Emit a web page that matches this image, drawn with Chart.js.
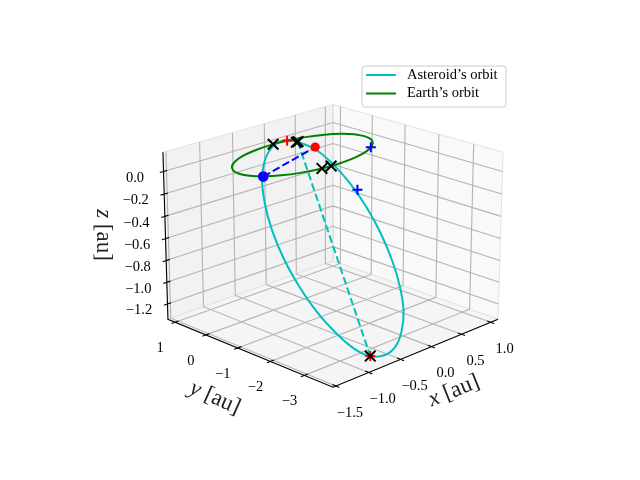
<!DOCTYPE html>
<html>
<head>
<meta charset="utf-8">
<title>Orbits</title>
<script src="https://cdn.jsdelivr.net/npm/chart.js@4"></script>
<style>
body { margin: 0; background: #fff; }
canvas { display: block; }
</style>
</head>
<body>
<canvas id="orbits" width="640" height="480"></canvas>
<script>
// Axis ticks and limits, in au
const xTicks = [-1.5, -1.0, -0.5, 0.0, 0.5, 1.0];
const yTicks = [-3, -2, -1, 0, 1];
const zTicks = [-1.2, -1.0, -0.8, -0.6, -0.4, -0.2, 0.0];
const xTickLabels = ['−1.5', '−1.0', '−0.5', '0.0', '0.5', '1.0'];
const yTickLabels = ['−3', '−2', '−1', '0', '1'];
const zTickLabels = ['−1.2', '−1.0', '−0.8', '−0.6', '−0.4', '−0.2', '0.0'];
const xLim = [-1.543, 1.129];
const yLim = [-3.82, 1.237];
const zLim = [-1.342, 0.17];

// Asteroid's orbit, in au
const asteroidX = [0.025, 0.266, 0.448, 0.580, 0.651, 0.657, 0.598, 0.478, 0.304, 0.07, -0.18, -0.44, -0.70, -0.91, -1.075, -1.21, -1.28, -1.29, -1.233, -1.112, -0.938, -0.714, -0.462, -0.200, 0.025];
const asteroidY = [0.228, 0.154, -0.036, -0.328, -0.703, -1.136, -1.596, -2.053, -2.475, -2.834, -3.104, -3.269, -3.315, -3.241, -3.052, -2.760, -2.373, -1.926, -1.461, -1.004, -0.582, -0.233, 0.027, 0.182, 0.228];
const asteroidZ = [0.091, -0.012, -0.158, -0.334, -0.530, -0.732, -0.927, -1.100, -1.240, -1.338, -1.387, -1.384, -1.328, -1.224, -1.079, -0.902, -0.706, -0.504, -0.310, -0.137, 0.004, 0.102, 0.150, 0.147, 0.091];

// Earth's orbit, in au
const earthX = [1, 0.966, 0.866, 0.707, 0.5, 0.259, 0, -0.259, -0.5, -0.707, -0.866, -0.966, -1, -0.966, -0.866, -0.707, -0.5, -0.259, 0, 0.259, 0.5, 0.707, 0.866, 0.966, 1];
const earthY = [0, 0.259, 0.5, 0.707, 0.866, 0.966, 1, 0.966, 0.866, 0.707, 0.5, 0.259, 0, -0.259, -0.5, -0.707, -0.866, -0.966, -1, -0.966, -0.866, -0.707, -0.5, -0.259, 0];
const earthZ = [0, 0, 0, 0, 0, 0, 0, 0, 0, 0, 0, 0, 0, 0, 0, 0, 0, 0, 0, 0, 0, 0, 0, 0, 0];

// Dashed lines
const apsisX = [0.025, -0.70];
const apsisY = [0.228, -3.315];
const apsisZ = [0.091, -1.328];
const nodeX = [-0.88, 0.29];
const nodeY = [-0.50, 0.20];
const nodeZ = [0, 0];

// Markers
const blackCrossX = [0.02, 0.0, 0.03, -0.215, -0.08, -0.70];
const blackCrossY = [1.00, 0.225, 0.23, -0.976, -0.996, -3.315];
const blackCrossZ = [0, 0.09, 0.09, 0, 0, -1.328];
const redPlusX = [0.23, -0.70];
const redPlusY = [0.97, -3.315];
const redPlusZ = [0, -1.328];
const bluePlusX = [0.74, 0.63];
const bluePlusY = [-0.67, -0.47];
const bluePlusZ = [0, -0.39];

const seriesNames = ['Asteroid’s orbit', 'Earth’s orbit'];

// View of the 3D box
const elev = 20 * Math.PI / 180;
const camDist = 8.6;
const zoom = 236.9;
const viewCenter = [333, 237];

function project(x, y, z) {
    const a = (x - xLim[0]) / (xLim[1] - xLim[0]) - 0.5;
    const b = (y - yLim[0]) / (yLim[1] - yLim[0]) - 0.5;
    const c = ((z - zLim[0]) / (zLim[1] - zLim[0]) - 0.5) * 0.75;
    const depth = -Math.cos(elev) * (a + b) / Math.SQRT2 + Math.sin(elev) * c;
    const f = 1 / (1 - depth / camDist);
    return {
        x: (a - b) / Math.SQRT2 * f,
        y: (Math.sin(elev) * (a + b) / Math.SQRT2 + Math.cos(elev) * c) * f
    };
}

function points(xs, ys, zs) {
    return xs.map((x, i) => project(x, ys[i], zs[i]));
}

function line(data, color, width, extra) {
    return Object.assign({
        data: data, showLine: true, pointRadius: 0, borderColor: color,
        borderWidth: width, borderCapStyle: 'butt', fill: false, tension: 0
    }, extra || {});
}

function pane(data, color) {
    return line(data, '#e2e2e2', 1, { fill: 'shape', backgroundColor: color });
}

function markers(data, style, radius, color, width) {
    return {
        data: data, showLine: false, pointStyle: style, pointRadius: radius,
        borderColor: color, backgroundColor: color, pointBorderWidth: width
    };
}

const [x0, x1] = xLim;
const [y0, y1] = yLim;
const [z0, z1] = zLim;
const gridColor = '#b3b3b3';
const axisColor = '#000000';

// Drawn in this order, bottom to top
const layers = [
    pane(points([x0, x1, x1, x0, x0], [y1, y1, y1, y1, y1], [z0, z0, z1, z1, z0]), '#f2f2f2'),
    pane(points([x1, x1, x1, x1, x1], [y1, y0, y0, y1, y1], [z0, z0, z1, z1, z0]), '#f9f9f9'),
    pane(points([x0, x1, x1, x0, x0], [y0, y0, y1, y1, y0], [z0, z0, z0, z0, z0]), '#f5f5f5')
];

xTicks.forEach(t => {
    layers.push(line(points([t, t, t], [y0, y1, y1], [z0, z0, z1]), gridColor, 1.1));
});
yTicks.forEach(t => {
    layers.push(line(points([x0, x1, x1], [t, t, t], [z0, z0, z1]), gridColor, 1.1));
});
zTicks.forEach(t => {
    layers.push(line(points([x0, x1, x1], [y1, y1, y0], [t, t, t]), gridColor, 1.1));
});

// Axis lines and tick marks
layers.push(line(points([x0, x0, x0, x1], [y1, y1, y0, y0], [z1, z0, z0, z0]), axisColor, 1.1));
const dx = (x1 - x0) * 0.02;
const dy = (y1 - y0) * 0.02;
xTicks.forEach(t => {
    layers.push(line(points([t, t], [y0 - dy, y0 + dy], [z0, z0]), axisColor, 1.1));
});
yTicks.forEach(t => {
    layers.push(line(points([x0 - dx, x0 + dx], [t, t], [z0, z0]), axisColor, 1.1));
});
zTicks.forEach(t => {
    layers.push(line(points([x0 - dx, x0 + dx], [y1, y1], [t, t]), axisColor, 1.1));
});

layers.push(line(points(asteroidX, asteroidY, asteroidZ), '#00bfbf', 2, { tension: 0.4 }));
layers.push(line(points(earthX, earthY, earthZ), '#008000', 2, { tension: 0.4 }));
layers.push(line(points(apsisX, apsisY, apsisZ), '#00bfbf', 2, { borderDash: [7.7, 3.3] }));
layers.push(line(points(nodeX, nodeY, nodeZ), '#0000ff', 2, { borderDash: [7.7, 3.3] }));
layers.push(markers(points(redPlusX, redPlusY, redPlusZ), 'cross', 5, '#ff0000', 2));
layers.push(markers(points(bluePlusX, bluePlusY, bluePlusZ), 'cross', 5, '#0000ff', 2));
layers.push(markers(points(blackCrossX, blackCrossY, blackCrossZ), 'crossRot', 7.5, '#000000', 2));
layers.push(markers(points(nodeX.slice(0, 1), nodeY.slice(0, 1), nodeZ.slice(0, 1)), 'circle', 5.3, '#0000ff', 0));
layers.push(markers(points(nodeX.slice(1), nodeY.slice(1), nodeZ.slice(1)), 'circle', 4.6, '#ff0000', 0));

const tickFont = '14.5px "Liberation Serif"';
const textColor = '#000000';

// Writes a label made of an italic letter and a plain part, centred on (px, py)
function axisLabel(ctx, letter, rest, px, py, angle) {
    const size = 23;
    ctx.save();
    ctx.translate(px, py);
    ctx.rotate(angle);
    ctx.fillStyle = '#222222';
    ctx.textBaseline = 'middle';
    ctx.textAlign = 'left';
    ctx.font = 'italic ' + size + 'px "Liberation Serif"';
    const w1 = ctx.measureText(letter).width;
    ctx.font = size + 'px "Liberation Serif"';
    const w2 = ctx.measureText(rest).width;
    const start = -(w1 + w2) / 2;
    ctx.font = 'italic ' + size + 'px "Liberation Serif"';
    ctx.fillText(letter, start, 0);
    ctx.font = size + 'px "Liberation Serif"';
    ctx.fillText(rest, start + w1, 0);
    ctx.restore();
}

// Tick labels, axis labels and legend are not available on a 3D box, drawn by hand
const textPlugin = {
    id: 'boxText',
    afterDraw(chart) {
        const ctx = chart.ctx;
        const sx = chart.scales.x;
        const sy = chart.scales.y;
        const px = p => sx.getPixelForValue(p.x);
        const py = p => sy.getPixelForValue(p.y);

        ctx.save();
        ctx.font = tickFont;
        ctx.fillStyle = textColor;
        ctx.textAlign = 'center';
        ctx.textBaseline = 'middle';
        xTicks.forEach((t, i) => {
            const p = project(t, y0, z0);
            ctx.fillText(xTickLabels[i], px(p) + 14, py(p) + 27);
        });
        yTicks.forEach((t, i) => {
            const p = project(x0, t, z0);
            ctx.fillText(yTickLabels[i], px(p) - 15, py(p) + 26);
        });
        zTicks.forEach((t, i) => {
            const p = project(x0, y1, t);
            ctx.fillText(zTickLabels[i], px(p) - 28.5, py(p) + 6.5);
        });
        ctx.restore();

        axisLabel(ctx, 'x', ' [au]', 454, 391, -22 * Math.PI / 180);
        axisLabel(ctx, 'y', ' [au]', 215, 398, 24 * Math.PI / 180);
        axisLabel(ctx, 'z', ' [au]', 103, 235, Math.PI / 2);

        // Legend
        ctx.save();
        ctx.beginPath();
        ctx.roundRect(362, 66, 144, 41, 3);
        ctx.fillStyle = 'rgba(255,255,255,0.8)';
        ctx.fill();
        ctx.strokeStyle = '#cccccc';
        ctx.lineWidth = 1;
        ctx.stroke();
        ['#00bfbf', '#008000'].forEach((color, i) => {
            const rowY = 75 + i * 18.5;
            ctx.beginPath();
            ctx.moveTo(366, rowY);
            ctx.lineTo(396, rowY);
            ctx.strokeStyle = color;
            ctx.lineWidth = 2;
            ctx.stroke();
            ctx.fillStyle = textColor;
            ctx.font = tickFont;
            ctx.textAlign = 'left';
            ctx.textBaseline = 'middle';
            ctx.fillText(seriesNames[i], 407, rowY);
        });
        ctx.restore();
    }
};

new Chart(document.getElementById('orbits'), {
    type: 'scatter',
    data: { datasets: layers.slice().reverse() },
    plugins: [textPlugin],
    options: {
        responsive: false,
        animation: false,
        events: [],
        layout: { padding: 0, autoPadding: false },
        plugins: { legend: { display: false }, tooltip: { enabled: false } },
        scales: {
            x: { type: 'linear', display: false, min: -viewCenter[0] / zoom, max: (640 - viewCenter[0]) / zoom },
            y: { type: 'linear', display: false, min: (viewCenter[1] - 480) / zoom, max: viewCenter[1] / zoom }
        }
    }
});
</script>
</body>
</html>
